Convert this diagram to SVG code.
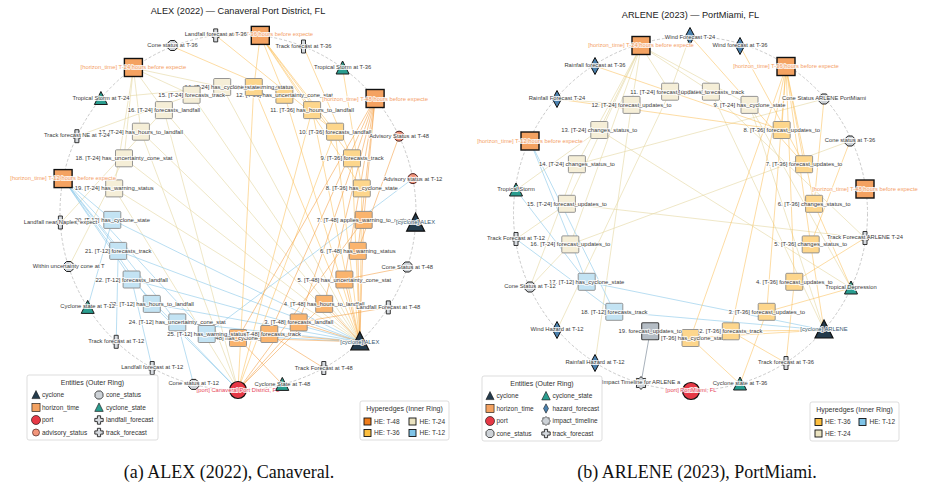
<svg xmlns="http://www.w3.org/2000/svg" width="927" height="487" viewBox="0 0 927 487">
<style>
text{font-family:"Liberation Sans",Arial,sans-serif;}
.ttl{font-size:9.2px;fill:#222;text-anchor:middle;}
.cap{font-family:"Liberation Serif","Times New Roman",serif;font-size:18px;fill:#111;text-anchor:middle;}
.lbl{font-size:5.8px;fill:#3a3a3a;text-anchor:middle;paint-order:stroke;stroke:#fff;stroke-width:2.2px;stroke-opacity:.8;stroke-linejoin:round;}
.hl{fill:#f4a066;}
.pl{fill:#e8475a;}
.cl{fill:#3b5a72;}
.bl{font-size:5.9px;fill:#3a3a3a;text-anchor:middle;paint-order:stroke;stroke:#fff;stroke-width:2.2px;stroke-opacity:.75;stroke-linejoin:round;}
.ring{fill:none;stroke:#bdbdbd;stroke-width:.8;stroke-dasharray:3 2;}
.b48{fill:#fab46e;stroke:#8a8a8a;stroke-width:.9;}
.b36{fill:#fdd68c;stroke:#8a8a8a;stroke-width:.9;}
.b24{fill:#f5eed7;stroke:#8a8a8a;stroke-width:.9;}
.b12{fill:#c3e3f3;stroke:#8a8a8a;stroke-width:.9;}
.bg{fill:#b4bcc4;stroke:#444;stroke-width:1.1;}
line{stroke-width:.9;}
.e48{stroke:#f39a3c;stroke-opacity:.6;}
.e36{stroke:#fbbd55;stroke-opacity:.6;}
.e24{stroke:#e6d8a6;stroke-opacity:.7;}
.e12{stroke:#8fcbea;stroke-opacity:.7;}
.eg{stroke:#8d99a6;stroke-opacity:.85;}
.lgbox{fill:#fff;stroke:#d4d4d4;stroke-width:.8;}
.lgt{font-size:7px;fill:#333;text-anchor:middle;}
.lgi{font-size:6.5px;fill:#333;}
.sw{stroke:#111;stroke-width:.9;}
</style>
<defs>
<g id="g-cyc"><polygon points="0,-10 9,8 -9,8" fill="#243b4c" stroke="#111" stroke-width="1.2"/></g>
<g id="g-hz"><rect x="-9" y="-9" width="18" height="18" fill="#f4a261" stroke="#111" stroke-width="1.4"/></g>
<g id="g-port"><circle r="8.5" fill="#e63946" stroke="#111" stroke-width="1.2"/></g>
<g id="g-adv"><circle r="5" fill="#f2957a" stroke="#4a2020" stroke-width="1"/></g>
<g id="g-cone"><polygon points="-2.2,-5 2.2,-5 5,-2.2 5,2.2 2.2,5 -2.2,5 -5,2.2 -5,-2.2" fill="#cdd2d7" stroke="#222" stroke-width="1"/></g>
<g id="g-cs"><polygon points="0,-7 6.5,6 -6.5,6" fill="#2a9d8f" stroke="#1a1a1a" stroke-width="1"/></g>
<g id="g-plus"><path d="M-2,-6.5 h4 v4.5 h1.5 v4 h-1.5 v4.5 h-4 v-4.5 h-1.5 v-4 h1.5 z" fill="#d5d9de" stroke="#222" stroke-width=".9"/></g>
<g id="g-plusL"><path d="M-1.6,-4.2 h3.2 v2.6 h2.6 v3.2 h-2.6 v2.6 h-3.2 v-2.6 h-2.6 v-3.2 h2.6 z" fill="#d5d9de" stroke="#222" stroke-width=".9"/></g>
<g id="g-haz"><polygon points="0,-8.5 4.5,0 0,8.5 -4.5,0" fill="#4a80ad" stroke="#111" stroke-width="1"/></g>
<g id="g-imp"><polygon points="6.5,0 4.43,1.84 4.6,4.6 1.84,4.43 0,6.5 -1.84,4.43 -4.6,4.6 -4.43,1.84 -6.5,0 -4.43,-1.84 -4.6,-4.6 -1.84,-4.43 0,-6.5 1.84,-4.43 4.6,-4.6 4.43,-1.84" fill="#cdd2d7" stroke="#222" stroke-width=".9" stroke-linejoin="round"/></g>
</defs>
<rect width="927" height="487" fill="#fff"/>

<!-- ===================== PANEL (a) ===================== -->
<text class="ttl" x="238" y="13.5">ALEX (2022) — Canaveral Port District, FL</text>
<circle class="ring" cx="238" cy="212" r="178"/>

<g id="a-connectors">
<line class="e24" x1="222.2" y1="87" x2="133.4" y2="68"/><line class="e24" x1="222.2" y1="87" x2="359.8" y2="341.8"/><line class="e24" x1="222.2" y1="87" x2="100.9" y2="98.5"/>
<line class="e24" x1="191.6" y1="94.8" x2="133.4" y2="68"/><line class="e24" x1="191.6" y1="94.8" x2="359.8" y2="341.8"/><line class="e24" x1="191.6" y1="94.8" x2="76.9" y2="136.2"/>
<line class="e24" x1="163.9" y1="110.1" x2="133.4" y2="68"/><line class="e24" x1="163.9" y1="110.1" x2="359.8" y2="341.8"/><line class="e24" x1="163.9" y1="110.1" x2="60.4" y2="223.2"/><line class="e24" x1="163.9" y1="110.1" x2="238" y2="390"/>
<line class="e24" x1="140.9" y1="131.7" x2="133.4" y2="68"/><line class="e24" x1="140.9" y1="131.7" x2="359.8" y2="341.8"/><line class="e24" x1="140.9" y1="131.7" x2="238" y2="390"/>
<line class="e24" x1="124" y1="158.3" x2="133.4" y2="68"/><line class="e24" x1="124" y1="158.3" x2="359.8" y2="341.8"/><line class="e24" x1="124" y1="158.3" x2="68.7" y2="267"/>
<line class="e24" x1="114.2" y1="188.4" x2="133.4" y2="68"/><line class="e24" x1="114.2" y1="188.4" x2="359.8" y2="341.8"/><line class="e24" x1="114.2" y1="188.4" x2="238" y2="390"/>
<line class="e12" x1="112.3" y1="219.9" x2="63.1" y2="178.6"/><line class="e12" x1="112.3" y1="219.9" x2="359.8" y2="341.8"/><line class="e12" x1="112.3" y1="219.9" x2="87.7" y2="307.4"/>
<line class="e12" x1="118.2" y1="250.9" x2="63.1" y2="178.6"/><line class="e12" x1="118.2" y1="250.9" x2="359.8" y2="341.8"/><line class="e12" x1="118.2" y1="250.9" x2="116.2" y2="341.8"/>
<line class="e12" x1="131.6" y1="279.5" x2="63.1" y2="178.6"/><line class="e12" x1="131.6" y1="279.5" x2="359.8" y2="341.8"/><line class="e12" x1="131.6" y1="279.5" x2="152.2" y2="368"/><line class="e12" x1="131.6" y1="279.5" x2="238" y2="390"/>
<line class="e12" x1="151.8" y1="303.9" x2="63.1" y2="178.6"/><line class="e12" x1="151.8" y1="303.9" x2="359.8" y2="341.8"/><line class="e12" x1="151.8" y1="303.9" x2="238" y2="390"/>
<line class="e12" x1="177.3" y1="322.4" x2="63.1" y2="178.6"/><line class="e12" x1="177.3" y1="322.4" x2="359.8" y2="341.8"/><line class="e12" x1="177.3" y1="322.4" x2="193.7" y2="384.4"/>
<line class="e12" x1="206.7" y1="334" x2="63.1" y2="178.6"/><line class="e12" x1="206.7" y1="334" x2="359.8" y2="341.8"/><line class="e12" x1="206.7" y1="334" x2="412.9" y2="178.6"/>
<line class="e36" x1="361.8" y1="188.4" x2="260.3" y2="35.4"/><line class="e36" x1="361.8" y1="188.4" x2="359.8" y2="341.8"/><line class="e36" x1="361.8" y1="188.4" x2="342.6" y2="68"/>
<line class="e36" x1="352" y1="158.3" x2="260.3" y2="35.4"/><line class="e36" x1="352" y1="158.3" x2="359.8" y2="341.8"/><line class="e36" x1="352" y1="158.3" x2="303.5" y2="46.5"/>
<line class="e36" x1="335.1" y1="131.7" x2="260.3" y2="35.4"/><line class="e36" x1="335.1" y1="131.7" x2="359.8" y2="341.8"/><line class="e36" x1="335.1" y1="131.7" x2="215.7" y2="35.4"/><line class="e36" x1="335.1" y1="131.7" x2="238" y2="390"/>
<line class="e36" x1="312.1" y1="110.1" x2="260.3" y2="35.4"/><line class="e36" x1="312.1" y1="110.1" x2="359.8" y2="341.8"/><line class="e36" x1="312.1" y1="110.1" x2="238" y2="390"/>
<line class="e36" x1="284.4" y1="94.8" x2="260.3" y2="35.4"/><line class="e36" x1="284.4" y1="94.8" x2="359.8" y2="341.8"/><line class="e36" x1="284.4" y1="94.8" x2="172.5" y2="46.5"/>
<line class="e36" x1="253.8" y1="87" x2="260.3" y2="35.4"/><line class="e36" x1="253.8" y1="87" x2="359.8" y2="341.8"/><line class="e36" x1="253.8" y1="87" x2="238" y2="390"/>
<line class="e48" x1="238" y1="338" x2="375.1" y2="98.5"/><line class="e48" x1="238" y1="338" x2="359.8" y2="341.8"/><line class="e48" x1="238" y1="338" x2="282.3" y2="384.4"/>
<line class="e48" x1="269.3" y1="334" x2="375.1" y2="98.5"/><line class="e48" x1="269.3" y1="334" x2="359.8" y2="341.8"/><line class="e48" x1="269.3" y1="334" x2="323.8" y2="368"/>
<line class="e48" x1="298.7" y1="322.4" x2="375.1" y2="98.5"/><line class="e48" x1="298.7" y1="322.4" x2="359.8" y2="341.8"/><line class="e48" x1="298.7" y1="322.4" x2="388.3" y2="307.4"/><line class="e48" x1="298.7" y1="322.4" x2="238" y2="390"/>
<line class="e48" x1="324.2" y1="303.9" x2="375.1" y2="98.5"/><line class="e48" x1="324.2" y1="303.9" x2="359.8" y2="341.8"/><line class="e48" x1="324.2" y1="303.9" x2="238" y2="390"/>
<line class="e48" x1="344.4" y1="279.5" x2="375.1" y2="98.5"/><line class="e48" x1="344.4" y1="279.5" x2="359.8" y2="341.8"/><line class="e48" x1="344.4" y1="279.5" x2="407.3" y2="267"/>
<line class="e48" x1="357.8" y1="250.9" x2="375.1" y2="98.5"/><line class="e48" x1="357.8" y1="250.9" x2="359.8" y2="341.8"/><line class="e48" x1="357.8" y1="250.9" x2="399.1" y2="136.2"/>
<line class="e48" x1="363.7" y1="219.9" x2="375.1" y2="98.5"/><line class="e48" x1="363.7" y1="219.9" x2="359.8" y2="341.8"/><line class="e48" x1="363.7" y1="219.9" x2="238" y2="390"/>
</g>

<g id="a-he1"><rect class="b48" x="229.5" y="329.5" width="17" height="17" rx="1"/><text class="bl" x="238" y="340">1. [T-48] has_cyclone_state</text></g>
<g id="a-he2"><rect class="b48" x="260.8" y="325.5" width="17" height="17" rx="1"/><text class="bl" x="269.3" y="336">2. [T-48] forecasts_track</text></g>
<g id="a-he3"><rect class="b48" x="290.2" y="313.9" width="17" height="17" rx="1"/><text class="bl" x="298.7" y="324.4">3. [T-48] forecasts_landfall</text></g>
<g id="a-he4"><rect class="b48" x="315.7" y="295.4" width="17" height="17" rx="1"/><text class="bl" x="324.2" y="305.9">4. [T-48] has_hours_to_landfall</text></g>
<g id="a-he5"><rect class="b48" x="335.9" y="271" width="17" height="17" rx="1"/><text class="bl" x="344.4" y="281.5">5. [T-48] has_uncertainty_cone_stat</text></g>
<g id="a-he6"><rect class="b48" x="349.3" y="242.4" width="17" height="17" rx="1"/><text class="bl" x="357.8" y="252.9">6. [T-48] has_warning_status</text></g>
<g id="a-he7"><rect class="b48" x="355.2" y="211.4" width="17" height="17" rx="1"/><text class="bl" x="363.7" y="221.9">7. [T-48] applies_warning_to_region</text></g>
<g id="a-he8"><rect class="b36" x="353.3" y="179.9" width="17" height="17" rx="1"/><text class="bl" x="361.8" y="190.4">8. [T-36] has_cyclone_state</text></g>
<g id="a-he9"><rect class="b36" x="343.5" y="149.8" width="17" height="17" rx="1"/><text class="bl" x="352" y="160.3">9. [T-36] forecasts_track</text></g>
<g id="a-he10"><rect class="b36" x="326.6" y="123.2" width="17" height="17" rx="1"/><text class="bl" x="335.1" y="133.7">10. [T-36] forecasts_landfall</text></g>
<g id="a-he11"><rect class="b36" x="303.6" y="101.6" width="17" height="17" rx="1"/><text class="bl" x="312.1" y="112.1">11. [T-36] has_hours_to_landfall</text></g>
<g id="a-he12"><rect class="b36" x="275.9" y="86.3" width="17" height="17" rx="1"/><text class="bl" x="284.4" y="96.8">12. [T-36] has_uncertainty_cone_stat</text></g>
<g id="a-he13"><rect class="b36" x="245.3" y="78.5" width="17" height="17" rx="1"/><text class="bl" x="253.8" y="89">13. [T-36] has_warning_status</text></g>
<g id="a-he14"><rect class="b24" x="213.7" y="78.5" width="17" height="17" rx="1"/><text class="bl" x="222.2" y="89">14. [T-24] has_cyclone_state</text></g>
<g id="a-he15"><rect class="b24" x="183.1" y="86.3" width="17" height="17" rx="1"/><text class="bl" x="191.6" y="96.8">15. [T-24] forecasts_track</text></g>
<g id="a-he16"><rect class="b24" x="155.4" y="101.6" width="17" height="17" rx="1"/><text class="bl" x="163.9" y="112.1">16. [T-24] forecasts_landfall</text></g>
<g id="a-he17"><rect class="b24" x="132.4" y="123.2" width="17" height="17" rx="1"/><text class="bl" x="140.9" y="133.7">17. [T-24] has_hours_to_landfall</text></g>
<g id="a-he18"><rect class="b24" x="115.5" y="149.8" width="17" height="17" rx="1"/><text class="bl" x="124" y="160.3">18. [T-24] has_uncertainty_cone_stat</text></g>
<g id="a-he19"><rect class="b24" x="105.7" y="179.9" width="17" height="17" rx="1"/><text class="bl" x="114.2" y="190.4">19. [T-24] has_warning_status</text></g>
<g id="a-he20"><rect class="b12" x="103.8" y="211.4" width="17" height="17" rx="1"/><text class="bl" x="112.3" y="221.9">20. [T-12] has_cyclone_state</text></g>
<g id="a-he21"><rect class="b12" x="109.7" y="242.4" width="17" height="17" rx="1"/><text class="bl" x="118.2" y="252.9">21. [T-12] forecasts_track</text></g>
<g id="a-he22"><rect class="b12" x="123.1" y="271" width="17" height="17" rx="1"/><text class="bl" x="131.6" y="281.5">22. [T-12] forecasts_landfall</text></g>
<g id="a-he23"><rect class="b12" x="143.3" y="295.4" width="17" height="17" rx="1"/><text class="bl" x="151.8" y="305.9">23. [T-12] has_hours_to_landfall</text></g>
<g id="a-he24"><rect class="b12" x="168.8" y="313.9" width="17" height="17" rx="1"/><text class="bl" x="177.3" y="324.4">24. [T-12] has_uncertainty_cone_stat</text></g>
<g id="a-he25"><rect class="b12" x="198.2" y="325.5" width="17" height="17" rx="1"/><text class="bl" x="206.7" y="336">25. [T-12] has_warning_status</text></g>

<g id="a-port"><use href="#g-port" x="238" y="390"/><text class="lbl pl" x="238" y="392">[port] Canaveral Port District, FL</text></g>
<g id="a-cs48"><use href="#g-cs" x="282.3" y="384.4"/><text class="lbl" x="282.3" y="386.4">Cyclone State at T-48</text></g>
<g id="a-tf48"><use href="#g-plus" x="323.8" y="368"/><text class="lbl" x="323.8" y="370">Track Forecast at T-48</text></g>
<g id="a-alex"><use href="#g-cyc" x="359.8" y="341.8"/><text class="lbl cl" x="359.8" y="343.8">[cyclone] ALEX</text></g>
<g id="a-lf48"><use href="#g-plus" x="388.3" y="307.4"/><text class="lbl" x="388.3" y="309.4">Landfall Forecast at T-48</text></g>
<g id="a-cn48"><use href="#g-cone" x="407.3" y="267"/><text class="lbl" x="407.3" y="269">Cone Status at T-48</text></g>
<g id="a-alex2"><use href="#g-cyc" x="415.6" y="223.2"/><text class="lbl cl" x="415.6" y="224.2">[cyclone] ALEX</text></g>
<g id="a-adv12"><use href="#g-adv" x="412.9" y="178.6"/><text class="lbl" x="412.9" y="180.6">Advisory status at T-12</text></g>
<g id="a-adv48"><use href="#g-adv" x="399.1" y="136.2"/><text class="lbl" x="399.1" y="138.2">Advisory Status at T-48</text></g>
<g id="a-h48"><use href="#g-hz" x="375.1" y="98.5"/><text class="lbl hl" x="375.1" y="100.5">[horizon_time] T-48 hours before expecte</text></g>
<g id="a-ts36"><use href="#g-cs" x="342.6" y="68"/><text class="lbl" x="342.6" y="69">Tropical Storm at T-36</text></g>
<g id="a-tf36"><use href="#g-plus" x="303.5" y="46.5"/><text class="lbl" x="303.5" y="47.5">Track forecast at T-36</text></g>
<g id="a-h36"><use href="#g-hz" x="260.3" y="35.4"/><text class="lbl hl" x="260.3" y="36.4">[horizon_time] T-36 hours before expecte</text></g>
<g id="a-lf36"><use href="#g-plus" x="215.7" y="35.4"/><text class="lbl" x="215.7" y="36.4">Landfall forecast at T-36</text></g>
<g id="a-cn36"><use href="#g-cone" x="172.5" y="45.5"/><text class="lbl" x="172.5" y="46.5">Cone status at T-36</text></g>
<g id="a-h24"><use href="#g-hz" x="133.4" y="67.5"/><text class="lbl hl" x="133.4" y="69">[horizon_time] T-24 hours before expecte</text></g>
<g id="a-ts24"><use href="#g-cs" x="100.9" y="98.5"/><text class="lbl" x="100.9" y="99.5">Tropical Storm at T-24</text></g>
<g id="a-tf24"><use href="#g-plus" x="76.9" y="136.2"/><text class="lbl" x="76.9" y="137.2">Track forecast NE at T-24</text></g>
<g id="a-h12"><use href="#g-hz" x="63.1" y="178.6"/><text class="lbl hl" x="63.1" y="179.6">[horizon_time] T-12 hours before expecte</text></g>
<g id="a-lf24"><use href="#g-plus" x="60.4" y="222.5"/><text class="lbl" x="60.4" y="223.5">Landfall near Naples, expect</text></g>
<g id="a-cn24"><use href="#g-cone" x="68.7" y="266.5"/><text class="lbl" x="68.7" y="267.5">Within uncertainty cone at T</text></g>
<g id="a-cs12"><use href="#g-cs" x="87.7" y="307.4"/><text class="lbl" x="87.7" y="308.4">Cyclone state at T-12</text></g>
<g id="a-tf12"><use href="#g-plus" x="116.2" y="341.8"/><text class="lbl" x="116.2" y="342.8">Track forecast at T-12</text></g>
<g id="a-lf12"><use href="#g-plus" x="152.2" y="368"/><text class="lbl" x="152.2" y="369">Landfall forecast at T-12</text></g>
<g id="a-cn12"><use href="#g-cone" x="193.7" y="384.4"/><text class="lbl" x="193.7" y="385.4">Cone status at T-12</text></g>

<g id="a-legend-entities">
<rect class="lgbox" x="27" y="375" width="131" height="65" rx="2"/>
<text class="lgt" x="92.5" y="385">Entities (Outer Ring)</text>
<use href="#g-cyc" transform="translate(36,395) scale(0.45)"/><text class="lgi" x="42" y="397.3">cyclone</text>
<use href="#g-hz" transform="translate(36,407.5) scale(0.45)"/><text class="lgi" x="42" y="409.8">horizon_time</text>
<use href="#g-port" transform="translate(36,420) scale(0.53)"/><text class="lgi" x="42" y="422.3">port</text>
<use href="#g-adv" transform="translate(36,432.5) scale(0.7)"/><text class="lgi" x="42" y="434.8">advisory_status</text>
<use href="#g-cone" transform="translate(99,395) scale(0.8)"/><text class="lgi" x="106" y="397.3">cone_status</text>
<use href="#g-cs" transform="translate(99,407.5) scale(0.65)"/><text class="lgi" x="106" y="409.8">cyclone_state</text>
<use href="#g-plusL" x="99" y="420"/><text class="lgi" x="106" y="422.3">landfall_forecast</text>
<use href="#g-plusL" x="99" y="432.5"/><text class="lgi" x="106" y="434.8">track_forecast</text>
</g>
<g id="a-legend-hyperedges">
<rect class="lgbox" x="360" y="401" width="89" height="39" rx="2"/>
<text class="lgt" x="404.5" y="411">Hyperedges (Inner Ring)</text>
<rect class="sw" x="364" y="418" width="7" height="7" fill="#f07d1a"/><text class="lgi" x="374" y="423.5">HE: T-48</text>
<rect class="sw" x="409" y="418" width="7" height="7" fill="#ebe3c0"/><text class="lgi" x="419.5" y="423.5">HE: T-24</text>
<rect class="sw" x="364" y="429.5" width="7" height="7" fill="#fdbf3f"/><text class="lgi" x="374" y="435">HE: T-36</text>
<rect class="sw" x="409" y="429.5" width="7" height="7" fill="#7fc4e8"/><text class="lgi" x="419.5" y="435">HE: T-12</text>
</g>
<text class="cap" x="229" y="478">(a) ALEX (2022), Canaveral.</text>

<!-- ===================== PANEL (b) ===================== -->
<text class="ttl" x="690.5" y="18.3">ARLENE (2023) — PortMiami, FL</text>
<circle class="ring" cx="690.5" cy="213.5" r="177"/>

<g id="b-connectors">
<line class="e24" x1="749.5" y1="104.9" x2="641" y2="46"/><line class="e24" x1="749.5" y1="104.9" x2="824" y2="330"/><line class="e24" x1="749.5" y1="104.9" x2="851" y2="288"/>
<line class="e24" x1="710.9" y1="91.7" x2="641" y2="46"/><line class="e24" x1="710.9" y1="91.7" x2="824" y2="330"/><line class="e24" x1="710.9" y1="91.7" x2="865" y2="238"/>
<line class="e24" x1="670.1" y1="91.7" x2="641" y2="46"/><line class="e24" x1="670.1" y1="91.7" x2="690" y2="36"/><line class="e24" x1="670.1" y1="91.7" x2="557" y2="330"/>
<line class="e24" x1="631.5" y1="104.9" x2="641" y2="46"/><line class="e24" x1="631.5" y1="104.9" x2="557" y2="99"/><line class="e24" x1="631.5" y1="104.9" x2="595" y2="363"/>
<line class="e24" x1="599.3" y1="130" x2="641" y2="46"/><line class="e24" x1="599.3" y1="130" x2="851" y2="288"/><line class="e24" x1="599.3" y1="130" x2="516" y2="190"/>
<line class="e24" x1="576.9" y1="164.2" x2="641" y2="46"/><line class="e24" x1="576.9" y1="164.2" x2="824" y2="99"/><line class="e24" x1="576.9" y1="164.2" x2="530" y2="287"/>
<line class="e24" x1="566.9" y1="203.8" x2="641" y2="46"/><line class="e24" x1="566.9" y1="203.8" x2="865" y2="238"/><line class="e24" x1="566.9" y1="203.8" x2="516" y2="239"/>
<line class="e24" x1="570.3" y1="244.4" x2="641" y2="46"/><line class="e24" x1="570.3" y1="244.4" x2="850" y2="141"/><line class="e24" x1="570.3" y1="244.4" x2="530" y2="287"/>
<line class="e12" x1="586.7" y1="281.8" x2="530" y2="141"/><line class="e12" x1="586.7" y1="281.8" x2="824" y2="330"/><line class="e12" x1="586.7" y1="281.8" x2="516" y2="190"/>
<line class="e12" x1="614.3" y1="311.8" x2="530" y2="141"/><line class="e12" x1="614.3" y1="311.8" x2="824" y2="330"/><line class="e12" x1="614.3" y1="311.8" x2="516" y2="239"/>
<line class="eg" x1="650.2" y1="331.3" x2="641" y2="383"/>
<line class="e36" x1="690.5" y1="338" x2="786" y2="67"/><line class="e36" x1="690.5" y1="338" x2="824" y2="330"/><line class="e36" x1="690.5" y1="338" x2="740" y2="384"/>
<line class="e36" x1="730.8" y1="331.3" x2="786" y2="67"/><line class="e36" x1="730.8" y1="331.3" x2="824" y2="330"/><line class="e36" x1="730.8" y1="331.3" x2="786" y2="363"/>
<line class="e36" x1="766.7" y1="311.8" x2="786" y2="67"/><line class="e36" x1="766.7" y1="311.8" x2="740" y2="384"/><line class="e36" x1="766.7" y1="311.8" x2="851" y2="288"/>
<line class="e36" x1="794.3" y1="281.8" x2="786" y2="67"/><line class="e36" x1="794.3" y1="281.8" x2="786" y2="363"/><line class="e36" x1="794.3" y1="281.8" x2="865" y2="238"/>
<line class="e36" x1="810.7" y1="244.4" x2="786" y2="67"/><line class="e36" x1="810.7" y1="244.4" x2="850" y2="141"/><line class="e36" x1="810.7" y1="244.4" x2="824" y2="330"/>
<line class="e36" x1="814.1" y1="203.8" x2="786" y2="67"/><line class="e36" x1="814.1" y1="203.8" x2="824" y2="99"/><line class="e36" x1="814.1" y1="203.8" x2="851" y2="288"/>
<line class="e36" x1="804.1" y1="164.2" x2="786" y2="67"/><line class="e36" x1="804.1" y1="164.2" x2="740" y2="46"/><line class="e36" x1="804.1" y1="164.2" x2="690" y2="36"/>
<line class="e36" x1="781.7" y1="130" x2="786" y2="67"/><line class="e36" x1="781.7" y1="130" x2="595" y2="66"/><line class="e36" x1="781.7" y1="130" x2="557" y2="99"/>
</g>

<g id="b-he1"><rect class="b36" x="682" y="329.5" width="17" height="17" rx="1"/><text class="bl" x="690.5" y="340">1. [T-36] has_cyclone_state</text></g>
<g id="b-he2"><rect class="b36" x="722.3" y="322.8" width="17" height="17" rx="1"/><text class="bl" x="730.8" y="333.3">2. [T-36] forecasts_track</text></g>
<g id="b-he3"><rect class="b36" x="758.2" y="303.3" width="17" height="17" rx="1"/><text class="bl" x="766.7" y="313.8">3. [T-36] forecast_updates_to</text></g>
<g id="b-he4"><rect class="b36" x="785.8" y="273.3" width="17" height="17" rx="1"/><text class="bl" x="794.3" y="283.8">4. [T-36] forecast_updates_to</text></g>
<g id="b-he5"><rect class="b36" x="802.2" y="235.9" width="17" height="17" rx="1"/><text class="bl" x="810.7" y="246.4">5. [T-36] changes_status_to</text></g>
<g id="b-he6"><rect class="b36" x="805.6" y="195.3" width="17" height="17" rx="1"/><text class="bl" x="814.1" y="205.8">6. [T-36] changes_status_to</text></g>
<g id="b-he7"><rect class="b36" x="795.6" y="155.7" width="17" height="17" rx="1"/><text class="bl" x="804.1" y="166.2">7. [T-36] forecast_updates_to</text></g>
<g id="b-he8"><rect class="b36" x="773.2" y="121.5" width="17" height="17" rx="1"/><text class="bl" x="781.7" y="132">8. [T-36] forecast_updates_to</text></g>
<g id="b-he9"><rect class="b24" x="741" y="96.4" width="17" height="17" rx="1"/><text class="bl" x="749.5" y="106.9">9. [T-24] has_cyclone_state</text></g>
<g id="b-he10"><rect class="b24" x="702.4" y="83.2" width="17" height="17" rx="1"/><text class="bl" x="710.9" y="93.7">10. [T-24] forecasts_track</text></g>
<g id="b-he11"><rect class="b24" x="661.6" y="83.2" width="17" height="17" rx="1"/><text class="bl" x="670.1" y="93.7">11. [T-24] forecast_updates_to</text></g>
<g id="b-he12"><rect class="b24" x="623" y="96.4" width="17" height="17" rx="1"/><text class="bl" x="631.5" y="106.9">12. [T-24] forecast_updates_to</text></g>
<g id="b-he13"><rect class="b24" x="590.8" y="121.5" width="17" height="17" rx="1"/><text class="bl" x="599.3" y="132">13. [T-24] changes_status_to</text></g>
<g id="b-he14"><rect class="b24" x="568.4" y="155.7" width="17" height="17" rx="1"/><text class="bl" x="576.9" y="166.2">14. [T-24] changes_status_to</text></g>
<g id="b-he15"><rect class="b24" x="558.4" y="195.3" width="17" height="17" rx="1"/><text class="bl" x="566.9" y="205.8">15. [T-24] forecast_updates_to</text></g>
<g id="b-he16"><rect class="b24" x="561.8" y="235.9" width="17" height="17" rx="1"/><text class="bl" x="570.3" y="246.4">16. [T-24] forecast_updates_to</text></g>
<g id="b-he17"><rect class="b12" x="578.2" y="273.3" width="17" height="17" rx="1"/><text class="bl" x="586.7" y="283.8">17. [T-12] has_cyclone_state</text></g>
<g id="b-he18"><rect class="b12" x="605.8" y="303.3" width="17" height="17" rx="1"/><text class="bl" x="614.3" y="313.8">18. [T-12] forecasts_track</text></g>
<g id="b-he19"><rect class="bg" x="641.7" y="322.8" width="17" height="17" rx="1"/><text class="bl" x="650.2" y="333.3">19. forecast_updates_to</text></g>

<g id="b-port"><use href="#g-port" x="691" y="391"/><text class="lbl pl" x="691" y="392">[port] PortMiami, FL</text></g>
<g id="b-cs36"><use href="#g-cs" x="740" y="384"/><text class="lbl" x="740" y="385">Cyclone state at T-36</text></g>
<g id="b-tf36"><use href="#g-plus" x="786" y="363"/><text class="lbl" x="786" y="364">Track forecast at T-36</text></g>
<g id="b-arlene"><use href="#g-cyc" x="824" y="330"/><text class="lbl cl" x="824" y="331">[cyclone] ARLENE</text></g>
<g id="b-td"><use href="#g-cs" x="851" y="288"/><text class="lbl" x="851" y="289">Tropical Depression</text></g>
<g id="b-tf24"><use href="#g-plus" x="865" y="238"/><text class="lbl" x="865" y="239">Track Forecast ARLENE T-24</text></g>
<g id="b-h48"><use href="#g-hz" x="865" y="189"/><text class="lbl hl" x="865" y="190.5">[horizon_time] T-48 hours before expecte</text></g>
<g id="b-cn36"><use href="#g-cone" x="850" y="141"/><text class="lbl" x="850" y="142">Cone status at T-36</text></g>
<g id="b-cnap"><use href="#g-cone" x="824" y="99"/><text class="lbl" x="824" y="100">Cone Status ARLENE PortMiami</text></g>
<g id="b-h36"><use href="#g-hz" x="786" y="66.5"/><text class="lbl hl" x="786" y="68">[horizon_time] T-36 hours before expecte</text></g>
<g id="b-wf36"><use href="#g-haz" x="740" y="46"/><text class="lbl" x="740" y="47">Wind forecast at T-36</text></g>
<g id="b-wf24"><use href="#g-haz" x="690" y="36"/><text class="lbl" x="690" y="39">Wind Forecast T-24</text></g>
<g id="b-h24"><use href="#g-hz" x="641" y="45.5"/><text class="lbl hl" x="641" y="46.5">[horizon_time] T-24 hours before expecte</text></g>
<g id="b-rf36"><use href="#g-haz" x="595" y="66"/><text class="lbl" x="595" y="67">Rainfall forecast at T-36</text></g>
<g id="b-rf24"><use href="#g-haz" x="557" y="99"/><text class="lbl" x="557" y="100">Rainfall Forecast T-24</text></g>
<g id="b-h12"><use href="#g-hz" x="530" y="141"/><text class="lbl hl" x="530" y="142.5">[horizon_time] T-12 hours before expecte</text></g>
<g id="b-ts"><use href="#g-cs" x="516" y="190"/><text class="lbl" x="516" y="191">Tropical Storm</text></g>
<g id="b-tf12"><use href="#g-plus" x="516" y="239"/><text class="lbl" x="516" y="240">Track Forecast at T-12</text></g>
<g id="b-cn12"><use href="#g-cone" x="530" y="287"/><text class="lbl" x="530" y="288">Cone Status at T-12</text></g>
<g id="b-wh12"><use href="#g-haz" x="557" y="330"/><text class="lbl" x="557" y="331">Wind Hazard at T-12</text></g>
<g id="b-rh12"><use href="#g-haz" x="595" y="363"/><text class="lbl" x="595" y="364">Rainfall Hazard at T-12</text></g>
<g id="b-impact"><use href="#g-imp" x="641" y="383"/><text class="lbl" x="641" y="384">Impact Timeline for ARLENE a</text></g>

<g id="b-legend-entities">
<rect class="lgbox" x="482" y="376" width="120" height="65" rx="2"/>
<text class="lgt" x="542" y="386">Entities (Outer Ring)</text>
<use href="#g-cyc" transform="translate(490,396) scale(0.45)"/><text class="lgi" x="496.5" y="398.3">cyclone</text>
<use href="#g-hz" transform="translate(490,408.5) scale(0.45)"/><text class="lgi" x="496.5" y="410.8">horizon_time</text>
<use href="#g-port" transform="translate(490,421) scale(0.53)"/><text class="lgi" x="496.5" y="423.3">port</text>
<use href="#g-cone" transform="translate(490,433.5) scale(0.8)"/><text class="lgi" x="496.5" y="435.8">cone_status</text>
<use href="#g-cs" transform="translate(546,396) scale(0.65)"/><text class="lgi" x="552.5" y="398.3">cyclone_state</text>
<use href="#g-haz" transform="translate(546,408.5) scale(0.55)"/><text class="lgi" x="552.5" y="410.8">hazard_forecast</text>
<use href="#g-imp" transform="translate(546,421) scale(0.7)"/><text class="lgi" x="552.5" y="423.3">impact_timeline</text>
<use href="#g-plusL" x="546" y="433.5"/><text class="lgi" x="552.5" y="435.8">track_forecast</text>
</g>
<g id="b-legend-hyperedges">
<rect class="lgbox" x="810" y="402" width="89" height="39" rx="2"/>
<text class="lgt" x="854.5" y="411.5">Hyperedges (Inner Ring)</text>
<rect class="sw" x="815" y="418.5" width="7" height="7" fill="#fdbf3f"/><text class="lgi" x="825" y="424">HE: T-36</text>
<rect class="sw" x="859" y="418.5" width="7" height="7" fill="#7fc4e8"/><text class="lgi" x="869.5" y="424">HE: T-12</text>
<rect class="sw" x="815" y="430" width="7" height="7" fill="#ebe3c0"/><text class="lgi" x="825" y="435.5">HE: T-24</text>
</g>
<text class="cap" x="697" y="478">(b) ARLENE (2023), PortMiami.</text>
</svg>
